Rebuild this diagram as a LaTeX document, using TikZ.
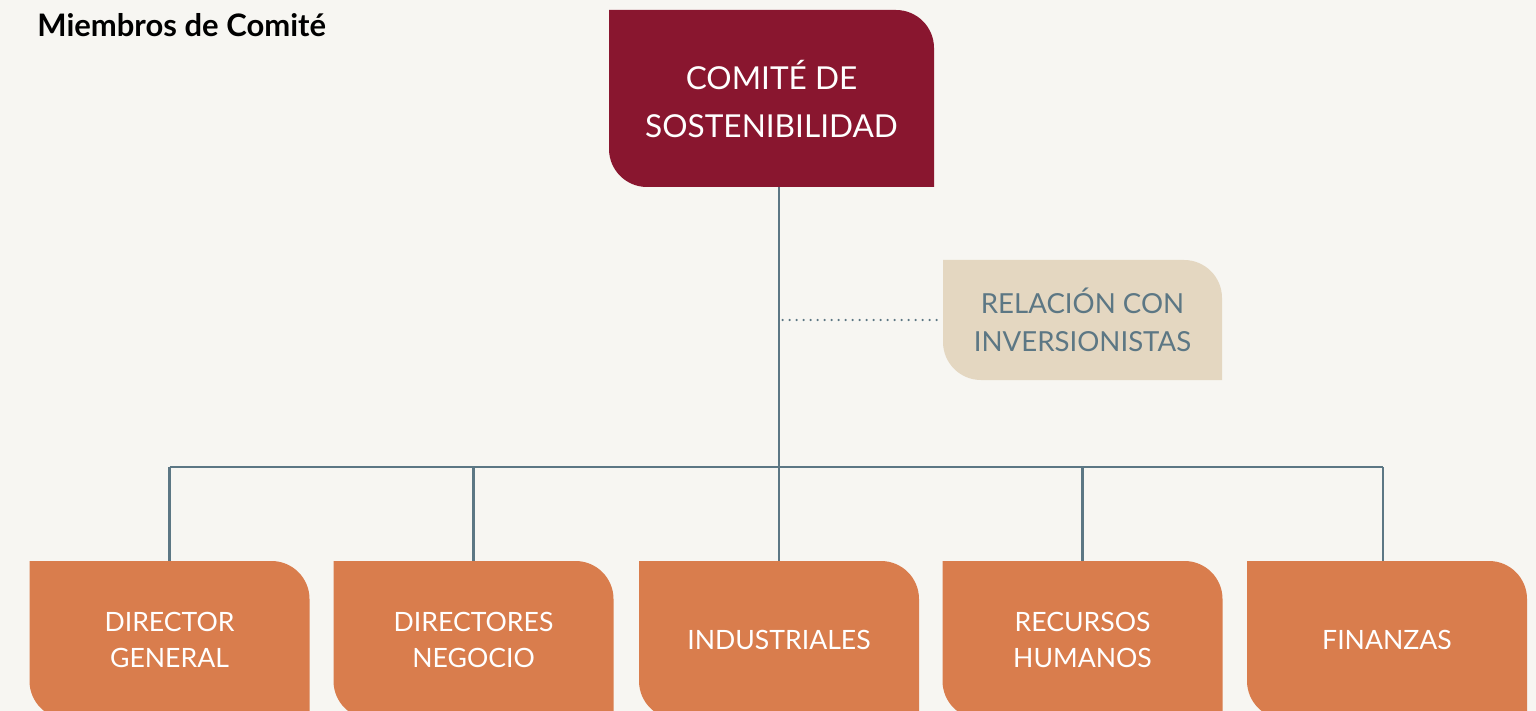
\documentclass[tikz,border=0pt]{standalone}
\usepackage{fontspec}
\setmainfont{Lato}
\usepackage{tikz}
\usetikzlibrary{%
	calc,%
	positioning
}

\definecolor{fondo}{HTML}{F7F6F2}
\definecolor{vino}{HTML}{89162F}
\definecolor{arena}{HTML}{E4D7C1}
\definecolor{naranja}{HTML}{D97D4D}
\definecolor{pizarra}{HTML}{5C7784}

\tikzset{
	cutbox/.style={
		inner sep=0pt, align=center,
		path picture={
			\fill[#1] (path picture bounding box.north west)
				-- ([xshift=-19pt]path picture bounding box.north east)
				arc[start angle=90, end angle=0, radius=19pt]
				-- (path picture bounding box.south east)
				-- ([xshift=19pt]path picture bounding box.south west)
				arc[start angle=270, end angle=180, radius=19pt]
				-- cycle;
		}
	},
	areabox/.style={cutbox=naranja, minimum width=140pt, minimum height=79pt,
		text=white, font=\fontsize{13.3}{18}\selectfont},
	linea/.style={pizarra, line width=1.2pt}
}

\begin{document}
\begin{tikzpicture}[x=0.5pt, y=-0.5pt]
			% Background and page size
			\fill[fondo] (0,0) rectangle (1536,711);
			\useasboundingbox (0,0) rectangle (1536,711);
			
			% Title
			\node[anchor=base west, inner sep=0pt, font=\fontsize{15.5}{18}\selectfont\bfseries] (titulo) at (37,37) {Miembros de Comité};
			
			% Committee box
			\node[cutbox=vino, minimum width=162.5pt, minimum height=88.5pt, text=white,
				font=\fontsize{15.8}{24}\selectfont] (comite) at (771.5,98.5) {COMITÉ DE\\SOSTENIBILIDAD};
			
			% Investor relations box
			\node[cutbox=arena, minimum width=139.5pt, minimum height=60pt, text=pizarra,
				font=\fontsize{13.8}{19}\selectfont] (inversion) at (1082.5,320) {RELACIÓN CON\\INVERSIONISTAS};
			
			% Member boxes
			\foreach \n/\x/\t in {dg/169.5/DIRECTOR\\GENERAL, dn/473.5/DIRECTORES\\NEGOCIO,
				ind/779/INDUSTRIALES, rh/1082.5/RECURSOS\\HUMANOS, fin/1387/FINANZAS} {
				\node[areabox] (\n) at (\x,640) {\t};
			}
			
			% Draw the trunk and the bus
			\coordinate (bus) at (0,467);
			\draw[linea] (ind.north) -- (ind.north |- comite.south);
			\draw[linea] (dg.north |- bus) -- ([xshift=-2pt]fin.north |- bus);
			\foreach \n in {dg,dn,rh} {
				\draw[linea] (\n.north) -- (\n.north |- bus);
			}
			\draw[linea] ([xshift=-2pt]fin.north) -- ([xshift=-2pt]fin.north |- bus);
			
			% Dotted link to investor relations
			\draw[pizarra, line width=1.2pt, line cap=round, dash pattern=on 0pt off 3.5pt]
				([xshift=-3pt]inversion.west) -- (inversion.west -| ind.north);
		\end{tikzpicture}
\end{document}
